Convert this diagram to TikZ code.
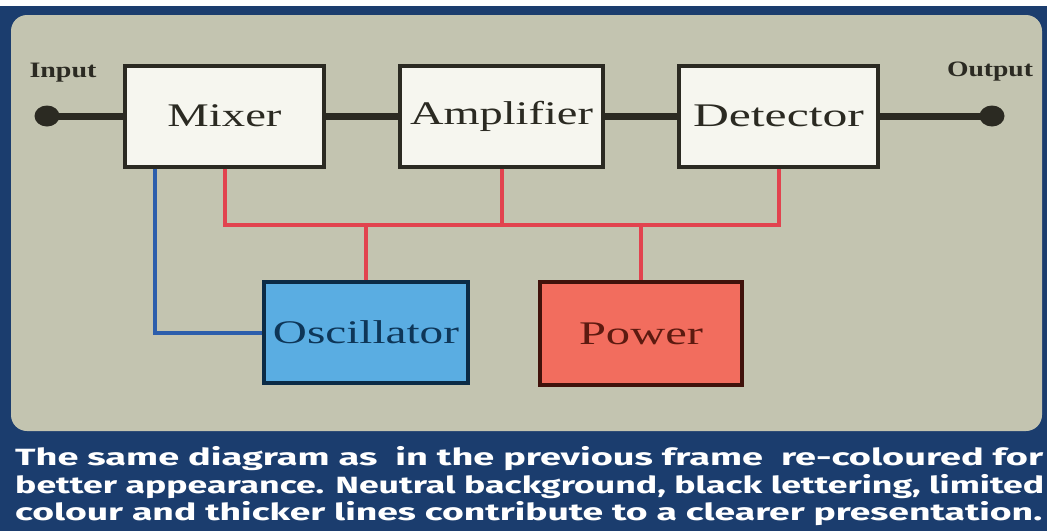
\documentclass[tikz,border=0pt]{standalone}
\usepackage{fontspec}
\usepackage{graphicx}
\setmainfont{Liberation Serif}
\newfontfamily\capfont{Fira Sans}
\usetikzlibrary{shapes.geometric}
\definecolor{bgblue}{HTML}{1B3D6E}
\definecolor{panelgrey}{HTML}{C3C4B0}
\definecolor{boxfill}{HTML}{F6F6EF}
\definecolor{ink}{HTML}{2B2A22}
\definecolor{oscfill}{HTML}{5AADE2}
\definecolor{osctext}{HTML}{0E3658}
\definecolor{powfill}{HTML}{F26D5E}
\definecolor{powtext}{HTML}{5C1A10}
\definecolor{redwire}{HTML}{E2434F}
\definecolor{bluewire}{HTML}{2C5EAC}
\newcommand{\fitw}[2]{\resizebox{#1}{\height}{#2}}
\tikzset{
  blockbox/.style={draw=ink, line width=4pt, fill=boxfill, inner sep=0pt,
    text=ink, font=\fontsize{33}{33}\selectfont},
  termdot/.style={ellipse, fill=ink, minimum width=25pt, minimum height=21pt, inner sep=0pt},
  blackwire/.style={draw=ink, line width=7pt},
  redline/.style={draw=redwire, line width=4pt, line join=miter},
  blueline/.style={draw=bluewire, line width=4pt, line join=miter},
  termlabel/.style={text=ink, inner sep=0pt, font=\fontsize{22}{22}\selectfont\bfseries},
  captionline/.style={text=white, inner sep=0pt, anchor=base west,
    font=\capfont\bfseries\fontsize{23.5}{23.5}\selectfont}
}
\begin{document}
\begin{tikzpicture}[x=1pt,y=-1pt]
\useasboundingbox (0,0) rectangle (1047,531);
\fill[bgblue] (0,0) rectangle (1047,531);
\fill[white] (0,0) rectangle (1047,6);
\fill[panelgrey, rounded corners=16pt] (11,15) rectangle (1042,431);

% blocks
\node[blockbox, minimum width=199pt, minimum height=101pt] (mixer) at (224.5,116) {\fitw{114pt}{Mixer}};
\node[blockbox, minimum width=203pt, minimum height=101pt] (amp) at (501.5,116) {\fitw{183pt}{Amplifier}};
\node[blockbox, minimum width=199pt, minimum height=101pt] (det) at (778.5,116) {\fitw{171pt}{Detector}};
\node[blockbox, fill=oscfill, draw=osctext!80!black, text=osctext, minimum width=204pt, minimum height=101pt] (osc) at (366,332.5) {\fitw{186pt}{Oscillator}};
\node[blockbox, fill=powfill, draw=powtext!70!black, text=powtext, minimum width=202pt, minimum height=103pt] (pow) at (641,333.5) {\fitw{124pt}{Power}};

% terminals
\node[termdot] (in) at (47,116) {};
\node[termdot] (out) at (992,116) {};
\node[termlabel] (inlabel) at (63,73) {\fitw{67pt}{Input}};
\node[termlabel] (outlabel) at (990,72) {\fitw{86pt}{Output}};

% signal path
\draw[blackwire] (in.center) -- (mixer.west);
\draw[blackwire] (mixer.east) -- (amp.west);
\draw[blackwire] (amp.east) -- (det.west);
\draw[blackwire] (det.east) -- (out.center);

% power bus
\coordinate (bus) at (0,225);
\draw[redline] (mixer.south) |- (det.south |- bus) -- (det.south);
\draw[redline] (amp.south) -- (amp.south |- bus);
\draw[redline] (osc.north) -- (osc.north |- bus);
\draw[redline] (pow.north) -- (pow.north |- bus);

% oscillator feed
\draw[blueline] ([xshift=-70pt]mixer.south) |- (osc.west);

% caption
\node[captionline] (cap1) at (15,465) {\fitw{1028pt}{The same diagram as\ \ in the previous frame\ \ re-coloured for}};
\node[captionline] (cap2) at (15,493) {\fitw{1029pt}{better appearance. Neutral background, black lettering, limited}};
\node[captionline] (cap3) at (15,520) {\fitw{1027pt}{colour and thicker lines contribute to a clearer presentation.}};
\end{tikzpicture}
\end{document}
